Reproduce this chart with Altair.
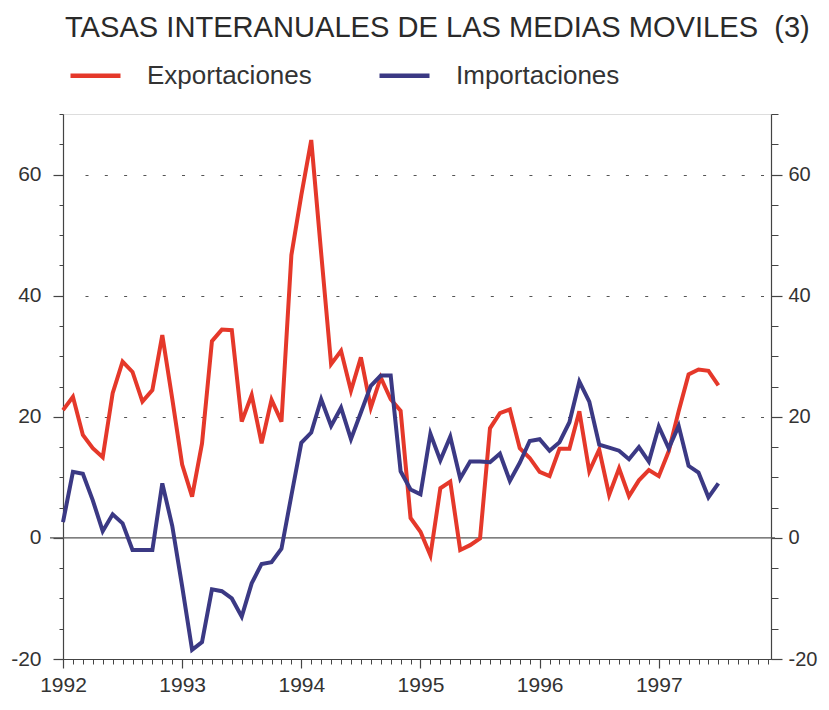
import altair as alt
import pandas as pd

# ---- data (monthly, Jan 1992 .. Jul 1997) ----
exportaciones = [21.1, 23.3, 17.0, 14.8, 13.3, 23.9, 29.1, 27.4, 22.5, 24.4, 33.5, 23.0,
                 12.1, 6.8, 15.6, 32.5, 34.4, 34.3, 19.2, 23.6, 15.6, 22.8, 19.2, 46.7,
                 56.6, 65.7, 47.0, 28.7, 30.9, 24.3, 29.8, 21.5, 26.5, 22.9, 21.0, 3.3,
                 1.0, -2.9, 8.2, 9.3, -2.0, -1.2, -0.1, 18.1, 20.6, 21.2, 14.8, 13.2,
                 10.9, 10.2, 14.7, 14.7, 20.9, 11.0, 14.6, 7.1, 11.5, 6.9, 9.5, 11.2,
                 10.2, 14.3, 20.9, 27.0, 27.8, 27.6, 25.2]
importaciones = [2.6, 10.9, 10.6, 6.2, 1.1, 3.9, 2.4, -2.0, -2.0, -2.0, 9.0, 2.0,
                 -8.0, -18.5, -17.2, -8.5, -8.8, -10.0, -13.0, -7.5, -4.3, -4.0, -1.8, 7.0,
                 15.7, 17.4, 22.9, 18.5, 21.5, 16.3, 20.7, 25.1, 26.8, 26.8, 11.0, 8.0,
                 7.2, 17.2, 12.8, 16.7, 9.8, 12.6, 12.6, 12.5, 13.9, 9.4, 12.4, 16.0,
                 16.3, 14.4, 15.8, 19.1, 25.8, 22.5, 15.4, 14.9, 14.4, 13.0, 15.0, 12.6,
                 18.4, 14.8, 18.5, 11.9, 10.8, 6.7, 9.0]
meses = list(range(len(exportaciones)))          # months since Jan 1992
series_names = ["Exportaciones", "Importaciones"]
series_colors = ["#e5382a", "#3b3984"]
first_year = 1992
year_ticks = [0, 12, 24, 36, 48, 60]
month_ticks = list(range(0, 72))
y_major = [-20, 0, 20, 40, 60]
y_minor = list(range(-20, 71, 5))
title_text = "TASAS INTERANUALES DE LAS MEDIAS MOVILES\u00a0\u00a0(3)"

df = pd.DataFrame({
    "mes": meses * 2,
    "valor": exportaciones + importaciones,
    "serie": [series_names[0]] * len(meses) + [series_names[1]] * len(meses),
})
zero_df = pd.DataFrame({"y": [0]})

FONT = "Liberation Sans"
AX = "#444444"
TXT = "#333333"
W, H = 708, 545
Y_LABEL = "datum.value % 20 == 0 ? '' + datum.value : ''"

xs = alt.Scale(domain=[0, 71.3], nice=False, zero=False)
ys = alt.Scale(domain=[-20, 70], nice=False, zero=False)

lines = alt.Chart(df).mark_line(strokeWidth=4).encode(
    x=alt.X("mes:Q", scale=xs, axis=alt.Axis(
        orient="bottom", values=month_ticks, labels=False, tickSize=5, title=None,
        grid=False, domainColor=AX, tickColor=AX, domainWidth=1.2, tickWidth=1)),
    y=alt.Y("valor:Q", scale=ys, axis=alt.Axis(
        orient="left", values=y_minor, tickSize=4, title=None, grid=False,
        labelExpr=Y_LABEL, labelOverlap=False, labelFlush=False,
        labelFont=FONT, labelFontSize=21, labelColor=TXT, labelPadding=18,
        domainColor=AX, tickColor=AX, domainWidth=1.2)),
    color=alt.Color("serie:N", scale=alt.Scale(domain=series_names, range=series_colors),
                    legend=alt.Legend(
                        orient="none", legendX=5, legendY=-66, direction="horizontal",
                        title=None, symbolType="stroke", symbolSize=2500,
                        symbolStrokeWidth=4.5, labelFont=FONT, labelFontSize=26,
                        labelColor=TXT, labelOffset=24, columnPadding=58, padding=0,
                        labelLimit=400)),
)

years = alt.Chart(df).mark_line(opacity=0).encode(
    x=alt.X("mes:Q", scale=xs, axis=alt.Axis(
        orient="bottom", values=year_ticks, tickSize=9, title=None, grid=False,
        labelExpr=f"'' + ({first_year} + datum.value / 12)", labelOverlap=False,
        labelFlush=False, labelFont=FONT, labelFontSize=21, labelColor=TXT,
        labelPadding=6, domain=False, tickColor=AX, tickWidth=1.2)),
    y=alt.Y("valor:Q", scale=ys, axis=alt.Axis(
        orient="right", values=y_minor, tickSize=7, title=None, grid=False,
        labelExpr=Y_LABEL, labelOverlap=False, labelFlush=False,
        labelFont=FONT, labelFontSize=20, labelColor=TXT, labelPadding=10,
        domainColor=AX, tickColor=AX, domainWidth=1.2)),
    detail="serie:N",
)

grid_dash = [0.01, 22] + [3, 16.3] * 40
zero_rule = alt.Chart(zero_df).mark_rule(color="#555555", strokeWidth=1.1).encode(
    y=alt.Y("y:Q", scale=ys, axis=alt.Axis(
        orient="left", values=y_major, tickSize=10, labels=False, title=None,
        domain=False, tickColor=AX, tickWidth=1.2, grid=True, gridDash=grid_dash,
        gridColor="#555555", gridWidth=1.2,
        gridOpacity={"condition": {"test": "datum.value > 10", "value": 1}, "value": 0})),
    x=alt.value(-13),
    x2=alt.value(W + 4),
)

right_major = alt.Chart(zero_df).mark_rule(opacity=0).encode(
    y=alt.Y("y:Q", scale=ys, axis=alt.Axis(
        orient="right", values=y_major, tickSize=11, labels=False, title=None,
        domain=False, tickColor=AX, tickWidth=1.2, grid=False)),
    x=alt.value(0),
    x2=alt.value(1),
)

title = alt.Chart(pd.DataFrame({"t": [title_text]})).mark_text(
    align="left", baseline="alphabetic", font=FONT, fontSize=29.1, color="#2a2a2a"
).encode(x=alt.value(2), y=alt.value(-77), text="t:N")

chart = alt.layer(zero_rule, right_major, years, lines, title).resolve_axis(
    x="independent", y="independent"
).properties(
    width=W, height=H,
    autosize=alt.AutoSizeParams(type="none"),
    padding={"left": 55, "top": 106, "right": 50, "bottom": 40},
).configure_view(stroke=None).configure(background="white")

chart.save("out.html", embed_options={"renderer": "svg", "actions": False})
